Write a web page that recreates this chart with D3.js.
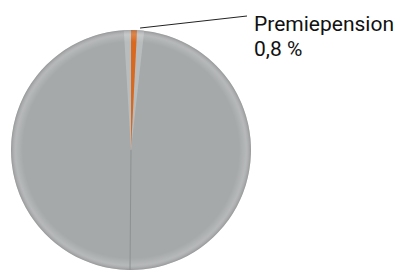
<!DOCTYPE html>
<html>
<head>
<meta charset="utf-8">
<script src="https://cdn.jsdelivr.net/npm/d3@7"></script>
<style>
  body { margin: 0; background: #fff; }
  svg { display: block; }
  .lbl { font-family: Roboto, "Open Sans", sans-serif; font-size: 21px; fill: #111; }
</style>
</head>
<body>
<div id="chart"></div>
<script>
// slices of the pension pie
var labels = ["Premiepension", "Övrigt"];
var values = [0.8, 99.2];
var colors = ["#d8691f", "#a6a9aa"];
var valueText = ["0,8 %", ""];

var W = 396, H = 273;
var cx = 131, cy = 150, r = 120;

var svg = d3.select("#chart").append("svg")
  .attr("width", W).attr("height", H);

var defs = svg.append("defs");
var grad = defs.append("radialGradient").attr("id", "shade")
  .attr("cx", "50%").attr("cy", "50%").attr("r", "50%");
grad.append("stop").attr("offset", "0%").attr("stop-color", "#fff").attr("stop-opacity", 0);
grad.append("stop").attr("offset", "90%").attr("stop-color", "#fff").attr("stop-opacity", 0);
grad.append("stop").attr("offset", "96%").attr("stop-color", "#fff").attr("stop-opacity", 0.18);
grad.append("stop").attr("offset", "100%").attr("stop-color", "#777").attr("stop-opacity", 0.35);

var pie = d3.pie().sort(null).value(function(d) { return d; });
var arcs = pie(values);
var arc = d3.arc().innerRadius(0).outerRadius(r);

var g = svg.append("g").attr("transform", "translate(" + cx + "," + cy + ")");

// big grey slice first
g.append("path").attr("d", arc(arcs[1])).attr("fill", colors[1]);

// lighter band around the small slice
var a = arcs[0];
var pad = 0.06;
g.append("path")
  .attr("d", arc({startAngle: a.startAngle - pad, endAngle: a.endAngle + pad}))
  .attr("fill", "#b9bcbd");

// the small slice
g.append("path").attr("d", arc(a)).attr("fill", colors[0]);

// soft edge
g.append("circle").attr("r", r).attr("fill", "url(#shade)");

// seam line down the middle
g.append("line")
  .attr("x1", 0).attr("y1", 0).attr("x2", -1).attr("y2", r)
  .attr("stroke", "#8e9192").attr("stroke-width", 1);

// leader + label for the small slice
var mid = (a.startAngle + a.endAngle) / 2;
var p0 = [Math.sin(mid) * (r + 2) + 6, -Math.cos(mid) * (r + 2)];
svg.append("line")
  .attr("x1", cx + p0[0]).attr("y1", cy + p0[1])
  .attr("x2", 247).attr("y2", 16)
  .attr("stroke", "#222").attr("stroke-width", 1);

svg.append("text").attr("class", "lbl")
  .attr("x", 254).attr("y", 31).text(labels[0]);
svg.append("text").attr("class", "lbl")
  .attr("x", 254).attr("y", 56).text(valueText[0]);
</script>
</body>
</html>
